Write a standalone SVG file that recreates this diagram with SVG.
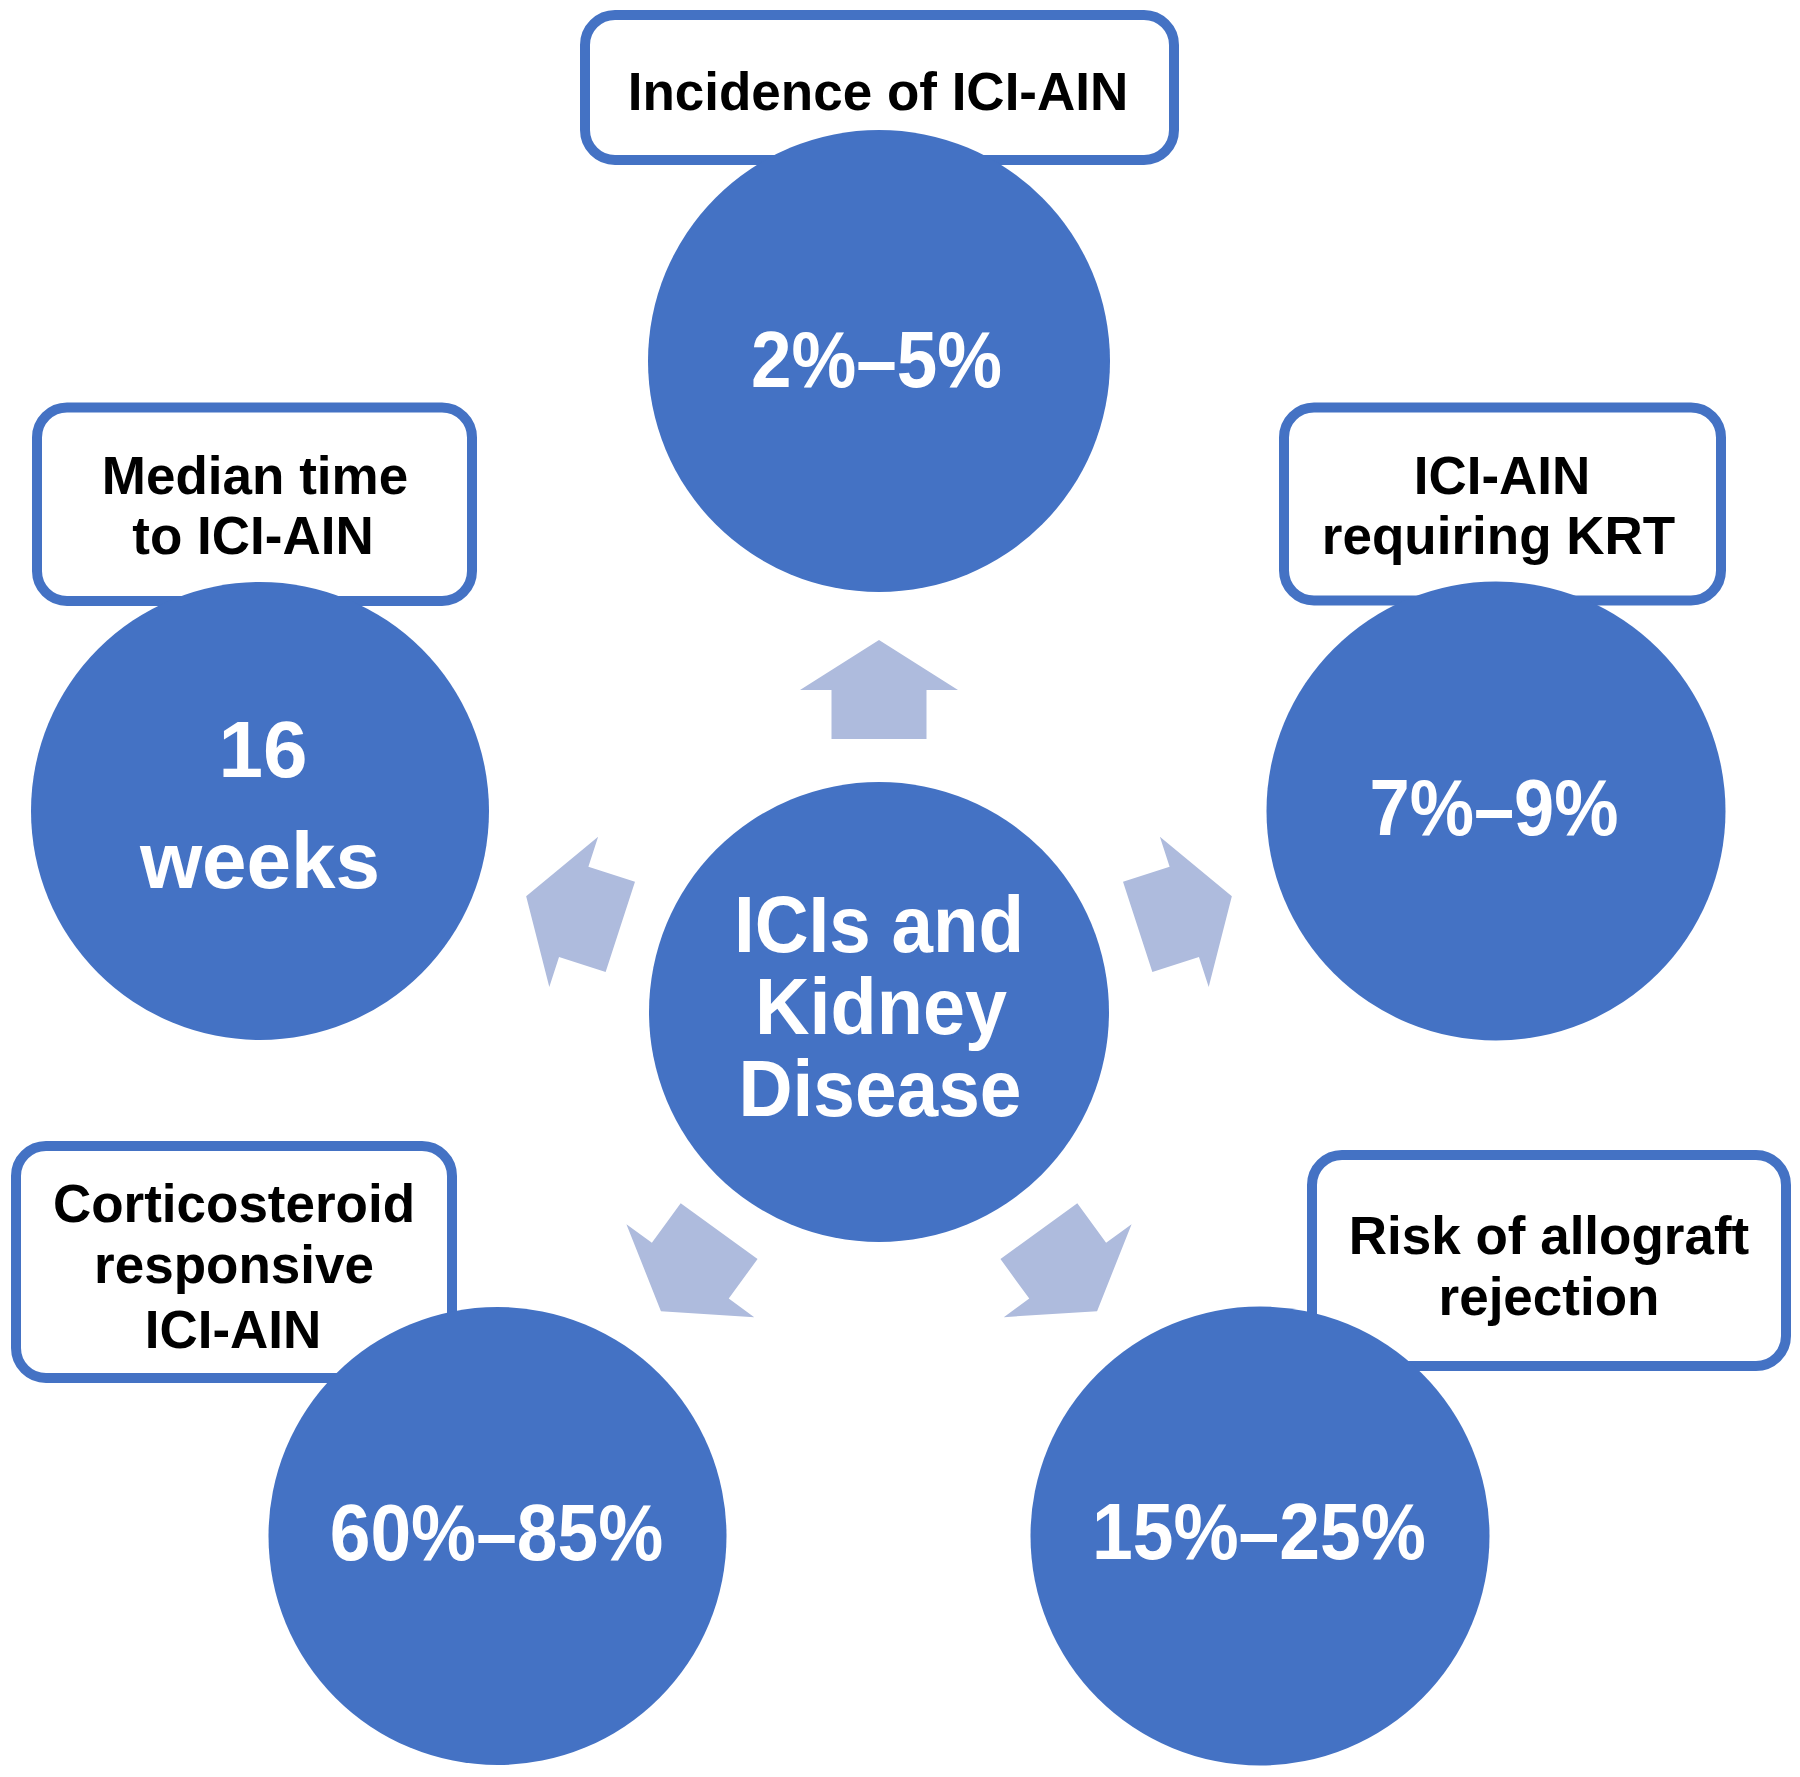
<svg xmlns="http://www.w3.org/2000/svg" xmlns:xlink="http://www.w3.org/1999/xlink" width="1800" height="1777" viewBox="0 0 1800 1777">
<style>
.box{fill:#ffffff;stroke:#4472C4;stroke-width:10}
.circ{fill:#4472C4}
.lbl{font-family:"Liberation Sans",Arial,sans-serif;font-weight:bold;font-size:53px;fill:#000000;text-anchor:middle}
.num{font-family:"Liberation Sans",Arial,sans-serif;font-weight:bold;font-size:80px;fill:#ffffff;text-anchor:middle}
.arrow{fill:#AEBBDD}
</style>
<defs>
<path id="arr" d="M0,-371 L79,-321 L47.5,-321 L47.5,-272 L-47.5,-272 L-47.5,-321 L-79,-321 Z"/>
</defs>
<rect width="1800" height="1777" fill="#ffffff"/>
<g id="connectors" class="arrow" transform="translate(879,1011)">
<use xlink:href="#arr"/>
<use xlink:href="#arr" transform="rotate(-72)"/>
<use xlink:href="#arr" transform="rotate(72)"/>
<use xlink:href="#arr" transform="rotate(-144)"/>
<use xlink:href="#arr" transform="rotate(144)"/>
</g>
<g id="node-center">
<circle class="circ" cx="879" cy="1012" r="230"/>
<text class="num" x="879" y="952" font-size="74" textLength="290" lengthAdjust="spacingAndGlyphs">ICIs and</text>
<text class="num" x="881" y="1034" font-size="74" textLength="252" lengthAdjust="spacingAndGlyphs">Kidney</text>
<text class="num" x="880" y="1116" font-size="74" textLength="283" lengthAdjust="spacingAndGlyphs">Disease</text>
</g>
<g id="node-incidence">
<rect class="box" x="585" y="15" width="589" height="145" rx="30"/>
<text class="lbl" x="878" y="110">Incidence of ICI-AIN</text>
<circle class="circ" cx="879" cy="361" r="231"/>
<text class="num" x="876.5" y="387" textLength="251" lengthAdjust="spacingAndGlyphs">2%–5%</text>
</g>
<g id="node-median">
<rect class="box" x="37" y="407.5" width="435" height="193.5" rx="30"/>
<text class="lbl" x="255" y="494">Median time</text>
<text class="lbl" x="253" y="553.5">to ICI-AIN</text>
<circle class="circ" cx="260" cy="811" r="229"/>
<text class="num" x="263" y="777" font-size="76">16</text>
<text class="num" x="260" y="888" font-size="76">weeks</text>
</g>
<g id="node-krt">
<rect class="box" x="1284" y="407.5" width="437" height="193" rx="30"/>
<text class="lbl" x="1502" y="494">ICI-AIN</text>
<text class="lbl" x="1498.5" y="553.5">requiring KRT</text>
<circle class="circ" cx="1496" cy="811" r="229.5"/>
<text class="num" x="1494" y="834.5" textLength="249" lengthAdjust="spacingAndGlyphs">7%–9%</text>
</g>
<g id="node-corticosteroid">
<rect class="box" x="16" y="1146" width="436" height="232" rx="30"/>
<text class="lbl" x="234" y="1222">Corticosteroid</text>
<text class="lbl" x="234" y="1283">responsive</text>
<text class="lbl" x="233" y="1348">ICI-AIN</text>
<circle class="circ" cx="497.5" cy="1536" r="229"/>
<text class="num" x="496.5" y="1560" textLength="333.5" lengthAdjust="spacingAndGlyphs">60%–85%</text>
</g>
<g id="node-allograft">
<rect class="box" x="1312" y="1155" width="474" height="211" rx="30"/>
<text class="lbl" x="1549" y="1254">Risk of allograft</text>
<text class="lbl" x="1549" y="1315">rejection</text>
<circle class="circ" cx="1260" cy="1536" r="229.5"/>
<text class="num" x="1259" y="1559" textLength="334" lengthAdjust="spacingAndGlyphs">15%–25%</text>
</g>
</svg>
